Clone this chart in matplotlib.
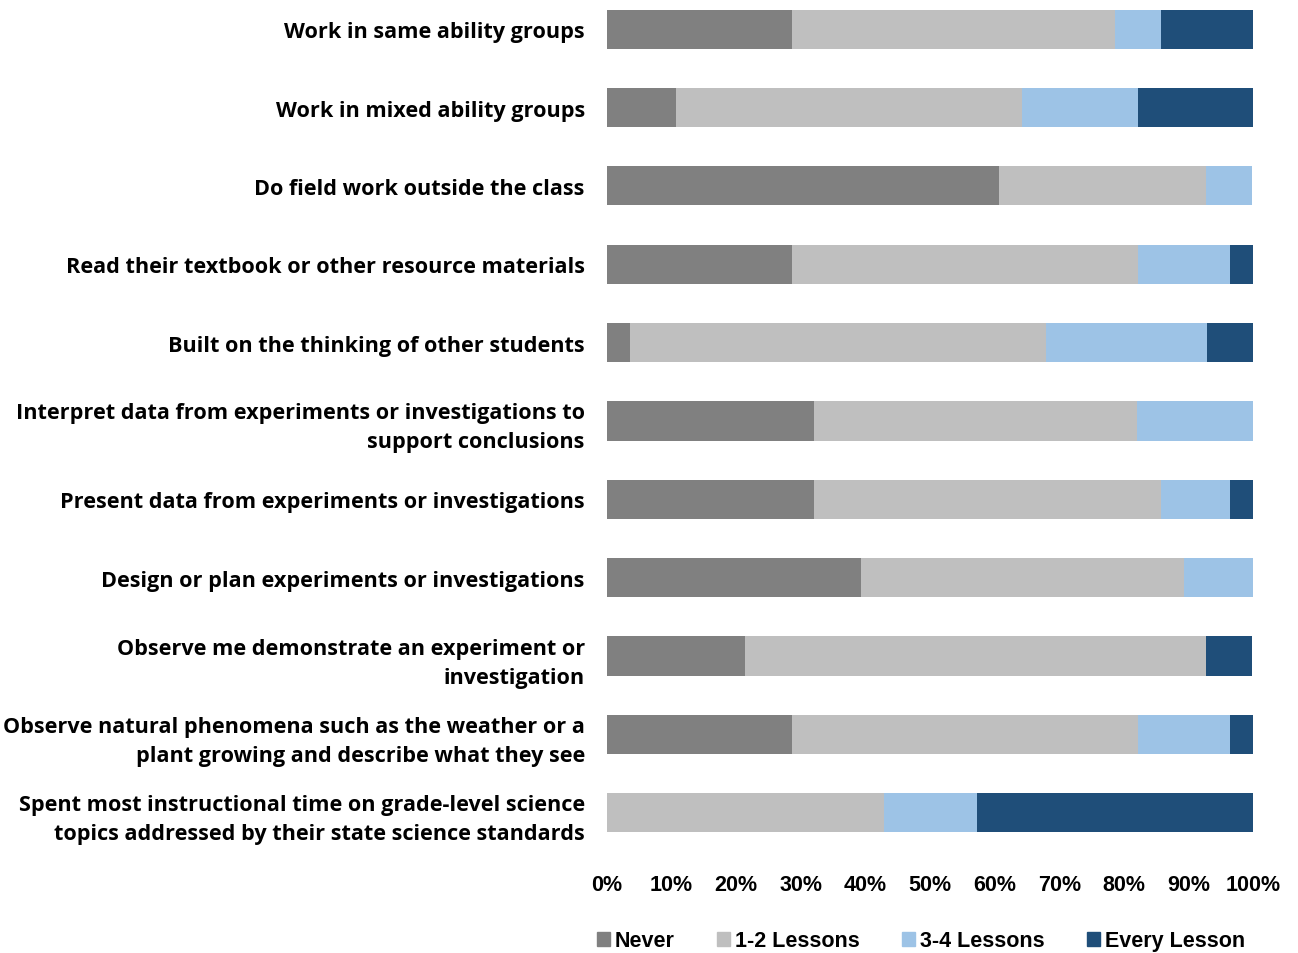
import matplotlib
matplotlib.use("Agg")
import matplotlib.pyplot as plt
from matplotlib.patches import Patch

categories = [
    "Work in same ability groups",
    "Work in mixed ability groups",
    "Do field work outside the class",
    "Read their textbook or other resource materials",
    "Built on the thinking of other students",
    "Interpret data from experiments or investigations to\nsupport conclusions",
    "Present data from experiments or investigations",
    "Design or plan experiments or investigations",
    "Observe me demonstrate an experiment or\ninvestigation",
    "Observe natural phenomena such as the weather or a\nplant growing and describe what they see",
    "Spent most instructional time on grade-level science\ntopics addressed by their state science standards",
]

never = [28.6, 10.7, 60.7, 28.6, 3.6, 32.1, 32.1, 39.3, 21.4, 28.6, 0.0]
lessons_1_2 = [50.0, 53.6, 32.1, 53.6, 64.3, 50.0, 53.6, 50.0, 71.4, 53.6, 42.9]
lessons_3_4 = [7.1, 17.9, 7.1, 14.3, 25.0, 17.9, 10.7, 10.7, 0.0, 14.3, 14.3]
every_lesson = [14.3, 17.9, 0.0, 3.6, 7.1, 0.0, 3.6, 0.0, 7.1, 3.6, 42.9]

series = [
    ("Never", never, "#808080"),
    ("1-2 Lessons", lessons_1_2, "#bfbfbf"),
    ("3-4 Lessons", lessons_3_4, "#9dc3e6"),
    ("Every Lesson", every_lesson, "#1f4e79"),
]
ticks = list(range(0, 101, 10))

fig = plt.figure(figsize=(12.98, 9.54), dpi=100)
ax = fig.add_axes([607 / 1298, 101 / 954, 646 / 1298, 853 / 954])

y = list(range(len(categories)))
left = [0.0] * len(categories)
for name, vals, color in series:
    ax.barh(y, vals, left=left, height=0.5, color=color, label=name)
    left = [a + b for a, b in zip(left, vals)]

ax.set_xlim(0, 100)
ax.set_ylim(10.5, -0.385)
ax.set_yticks(y)
ax.set_yticklabels(categories, fontsize=15.6, fontweight="bold",
                   family=["Open Sans", "DejaVu Sans"], linespacing=1.5)
ax.set_xticks(ticks)
ax.set_xticklabels([f"{t}%" for t in ticks], fontsize=15.5, fontweight="bold",
                   family=["Liberation Sans Narrow", "Liberation Sans"])
ax.tick_params(axis="y", length=0, pad=16)
ax.tick_params(axis="x", length=0, pad=16)
for s in ax.spines.values():
    s.set_visible(False)

handles = [Patch(color=c, label=n) for n, _, c in series]
fig.legend(handles=handles, loc="center", bbox_to_anchor=(921 / 1298, 1 - 942 / 954),
           ncol=4, frameon=False, handlelength=0.6, handleheight=0.6,
           handletextpad=0.25, columnspacing=1.95,
           prop={"family": ["Liberation Sans Narrow", "Liberation Sans"],
                 "weight": "bold", "size": 15.5})

fig.savefig("out.png", dpi=100)
